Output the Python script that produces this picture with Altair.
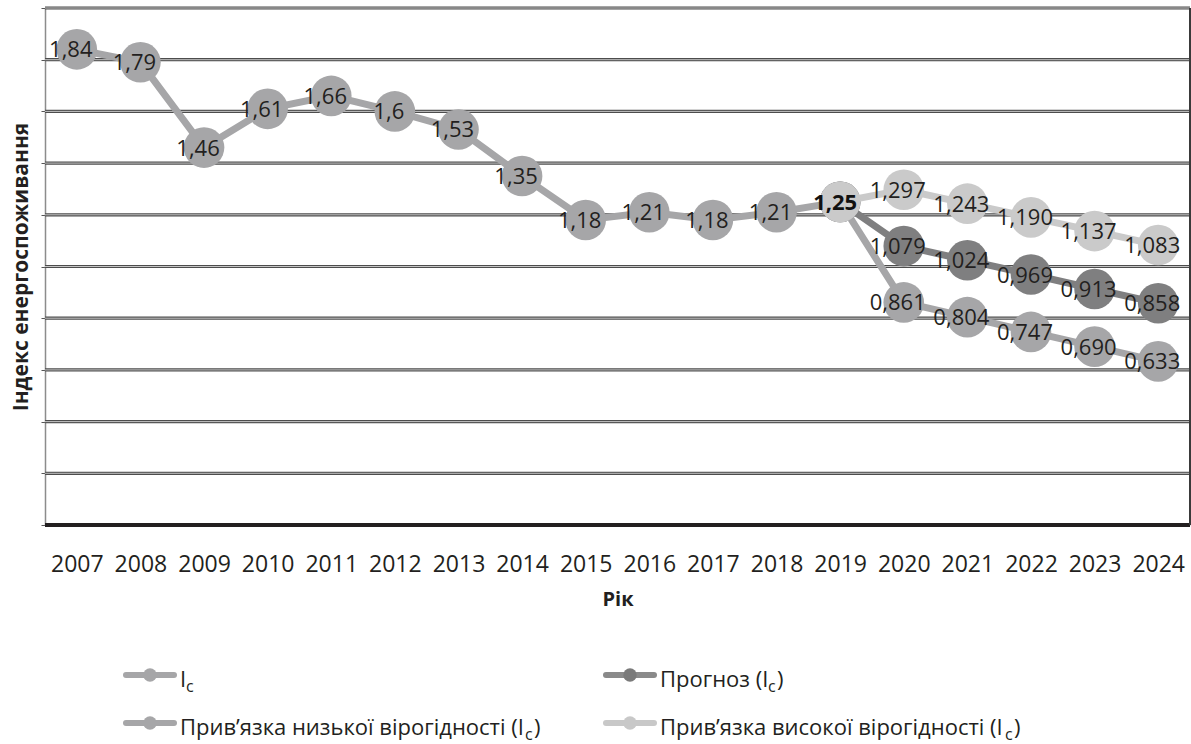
import altair as alt
import pandas as pd

# ---- data -------------------------------------------------------------
years = [str(y) for y in range(2007, 2025)]

hist_years = years[:13]  # 2007..2019
hist_values = [1.84, 1.79, 1.46, 1.61, 1.66, 1.6, 1.53, 1.35, 1.18, 1.21, 1.18, 1.21, 1.25]

proj_years = years[12:]  # 2019..2024 (starts from the last actual value)
forecast_values = [1.25, 1.079, 1.024, 0.969, 0.913, 0.858]
low_values = [1.25, 0.861, 0.804, 0.747, 0.690, 0.633]
high_values = [1.25, 1.297, 1.243, 1.190, 1.137, 1.083]

series_names = ["Ic", "Прогноз", "Низька", "Висока"]
series_colors = ["#a6a6a8", "#7f7f80", "#a6a6a8", "#cacaca"]

grid_values = [0.2, 0.4, 0.6, 0.8, 1.0, 1.2, 1.4, 1.6, 1.8, 2.0]
tick_values = [0.0] + grid_values

FONT = "Open Sans"
TEXT_COLOR = "#231f20"


def fmt_hist(v):
    return f"{v:g}".replace(".", ",")


def fmt_proj(v):
    return f"{v:.3f}".replace(".", ",")


rows = []
for y, v in zip(hist_years, hist_values):
    rows.append({"year": y, "value": v, "series": "Ic", "label": fmt_hist(v),
                 "show": y != "2019", "bold": y == "2019"})
for name, vals in zip(series_names[1:], [forecast_values, low_values, high_values]):
    for y, v in zip(proj_years, vals):
        rows.append({"year": y, "value": v, "series": name, "label": fmt_proj(v),
                     "show": y != "2019", "bold": False})
df = pd.DataFrame(rows)

W, H = 1145, 517

# shared encodings (identical axis definitions in every layer)
x_axis = alt.Axis(
    title="Рік", labelAngle=0, ticks=False, tickSize=0, domain=False, grid=False,
    labelFont=FONT, labelFontSize=23, labelColor=TEXT_COLOR, labelPadding=28,
    titleFont=FONT, titleFontSize=20, titleFontWeight="bold", titleColor=TEXT_COLOR,
    titlePadding=13)
y_axis = alt.Axis(
    title="Індекс енергоспоживання", labels=False, ticks=True, tickSize=4,
    tickColor="#555555", tickWidth=1, domain=True, domainColor="#8c8c8c",
    domainWidth=1.5, grid=False, values=tick_values,
    titleFont=FONT, titleFontSize=21, titleFontWeight="bold", titleColor=TEXT_COLOR,
    titlePadding=9)

x_scale = alt.Scale(domain=years, padding=0.5)
y_scale = alt.Scale(domain=[0, 2], nice=False, zero=True)
x_enc = alt.X("year:N", scale=x_scale, axis=x_axis)
y_enc = alt.Y("value:Q", scale=y_scale, axis=y_axis)
color_scale = alt.Scale(domain=series_names, range=series_colors)

base = alt.Chart(df)

# ---- grid: double rule (dark edge, light centre) ------------------------
grid_df = pd.DataFrame({"value": grid_values})
grid_dark = alt.Chart(grid_df).mark_rule(color="#4d4d4d", strokeWidth=3.2).encode(y=y_enc)
grid_light = alt.Chart(grid_df).mark_rule(color="#c4c4c4", strokeWidth=1).encode(y=y_enc)
baseline = alt.Chart(pd.DataFrame({"value": [0.0]})).mark_rule(
    color="#231f20", strokeWidth=4).encode(y=y_enc)
right_border = alt.Chart(pd.DataFrame({"value": [0.0]})).mark_rule(
    color="#3a3a3a", strokeWidth=2).encode(x=alt.value(W), y=alt.value(0), y2=alt.value(H))

# ---- series: line + markers, drawn in order ------------------------------
series_layers = []
for name in series_names:
    sub = base.transform_filter(alt.datum.series == name)
    line = sub.mark_line(strokeWidth=7).encode(
        x=x_enc, y=y_enc,
        color=alt.Color("series:N", scale=color_scale, legend=None),
        order=alt.Order("year:N"),
    )
    pts = sub.mark_circle(size=1650, opacity=1).encode(
        x=x_enc, y=y_enc,
        color=alt.Color("series:N", scale=color_scale, legend=None),
    )
    series_layers += [line, pts]

labels = base.transform_filter(alt.datum.show).mark_text(
    font=FONT, fontSize=22, color=TEXT_COLOR, dx=-6, dy=1
).encode(x=x_enc, y=y_enc, text="label:N")
labels_bold = base.transform_filter(alt.datum.bold).mark_text(
    font=FONT, fontSize=22, fontWeight="bold", color="#111111", dx=-5, dy=1
).encode(x=x_enc, y=y_enc, text="label:N")

# ---- legend (drawn below the plot) --------------------------------------
one = pd.DataFrame({"k": [0]})


def legend_item(x0, y0, color, dot, parts):
    """Line-with-dot swatch followed by text pieces (text, dx, size, dy)."""
    layers = [
        alt.Chart(one).mark_rule(color=color, strokeWidth=6, strokeCap="round").encode(
            x=alt.value(x0 + 3), x2=alt.value(x0 + 51), y=alt.value(y0)),
        alt.Chart(one).mark_circle(color=dot, size=180, opacity=1).encode(
            x=alt.value(x0 + 27), y=alt.value(y0)),
    ]
    for txt, dx, size, dy in parts:
        layers.append(
            alt.Chart(one).mark_text(
                text=txt, font=FONT, fontSize=size, color=TEXT_COLOR,
                align="left", baseline="alphabetic").encode(
                x=alt.value(x0 + 57 + dx), y=alt.value(y0 + 12 + dy))
        )
    return layers


LX1, LX2 = 123 - 45, 603 - 45
LY1, LY2 = 675 - 8, 723 - 8
legend_layers = []
legend_layers += legend_item(LX1, LY1, "#a6a6a8", "#a6a6a8",
                             [("I", 0, 22, 0), ("c", 6, 16, 5)])
legend_layers += legend_item(LX2, LY1, "#8a8a8a", "#7a7a7a",
                             [("Прогноз (I", 0, 22, 0), ("c", 108, 16, 5), (")", 117, 22, 0)])
legend_layers += legend_item(LX1, LY2, "#a6a6a8", "#a6a6a8",
                             [("Прив’язка низької вірогідності (I", 0, 22, 0), ("c", 345, 16, 5), (")", 354, 22, 0)])
legend_layers += legend_item(LX2, LY2, "#c8c8c8", "#c8c8c8",
                             [("Прив’язка високої вірогідності (I", 0, 22, 0), ("c", 345, 16, 5), (")", 354, 22, 0)])

chart = alt.layer(
    grid_dark, grid_light, baseline, right_border,
    *series_layers, labels, labels_bold, *legend_layers,
).properties(
    width=W, height=H,
    padding={"left": 45, "top": 8, "right": 1, "bottom": 219},
    autosize=alt.AutoSizeParams(type="none"),
).configure_view(stroke=None).configure(background="white")

chart.save("out.html", embed_options={"renderer": "svg", "actions": False})
